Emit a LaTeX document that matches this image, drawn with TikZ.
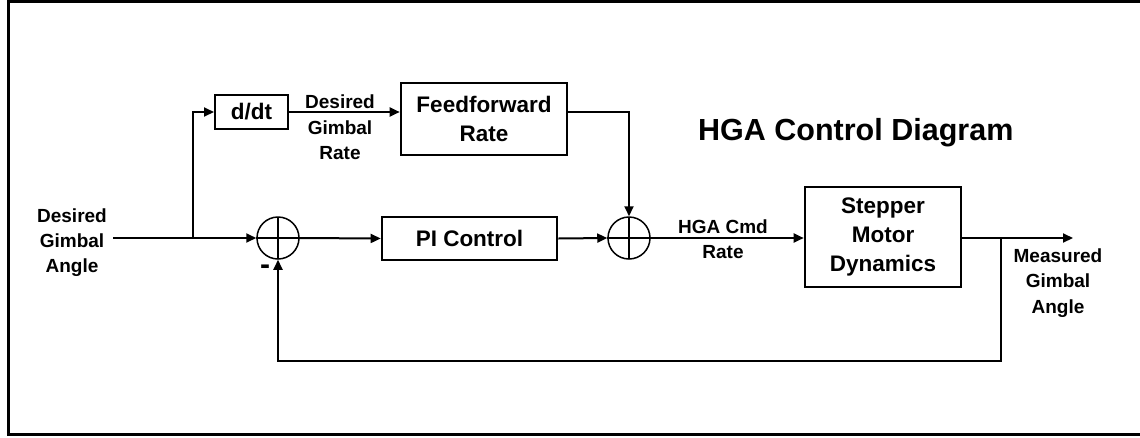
\documentclass[tikz,border=0pt]{standalone}
\usepackage{fontspec}
\setmainfont{Liberation Sans}
\usetikzlibrary{arrows.meta,calc}
\begin{document}
\begin{tikzpicture}[x=1pt,y=-1pt,
  blk/.style={draw,line width=2.6pt,inner sep=0pt,align=center,font=\fontsize{22.5}{29}\selectfont\bfseries},
  lbl/.style={align=center,inner sep=0pt,font=\fontsize{19}{25.3}\selectfont\bfseries},
  sumnode/.style={draw,circle,line width=1.5pt,minimum size=42pt,inner sep=0pt,
    path picture={\draw[line width=1.5pt] (path picture bounding box.north) -- (path picture bounding box.south);}},
  conn/.style={line width=2pt},
  arr/.style={conn,-{Triangle[length=10pt,width=9pt]}}
]
\useasboundingbox (0,0) rectangle (1140,437);
\begin{scope}
\clip (0,0) rectangle (1140,437);
\draw[line width=3pt] (8.5,1.5) rectangle (1160,434.5);
\end{scope}

% blocks
\node[blk,line width=2pt,minimum width=73pt,minimum height=34pt] (dd) at (251.5,112) {d/dt};
\node[blk,minimum width=166pt,minimum height=72pt] (ff) at (484,119) {Feedforward\\Rate};
\node[blk,minimum width=175pt,minimum height=43pt] (pi) at (469.5,238.5) {PI Control};
\node[blk,minimum width=156pt,minimum height=100pt] (sm) at (883,237) {Stepper\\Motor\\Dynamics};
\node[sumnode] (s1) at (278,238) {};
\node[sumnode] (s2) at (629,238) {};

% labels
\node[lbl] (lin) at (72,242.5) {Desired\\Gimbal\\Angle};
\node[lbl] (lrate) at (340,127.5) {Desired\\Gimbal\\Rate};
\node[lbl] (lcmd) at (723,239.5) {HGA Cmd\\Rate};
\node[lbl] (lout) at (1058,283) {Measured\\Gimbal\\Angle};
\node[inner sep=0pt,font=\fontsize{30}{30}\selectfont\bfseries] (minus) at (265,270) {-};
\node[anchor=base west,inner sep=0pt,font=\fontsize{30.5}{36}\selectfont\bfseries] (title) at (698,140) {HGA Control Diagram};

% coordinates
\coordinate (start) at (113,238);
\coordinate (br) at (193,238);
\coordinate (fb) at (1001,238);
\coordinate (out) at (1073,238);
\coordinate (low) at (1001,361);

% connectors
\draw[conn] (start) -- (br);
\draw[arr] (br) -- (s1.west);
\draw[arr] (br) |- (dd.west);
\draw[arr] (dd.east) -- (ff.west |- dd.east);
\draw[arr] (ff.east |- dd.east) -| (s2.north);
\draw[arr] (s1.east) -- (pi.west);
\draw[arr] (pi.east) -- (s2.west);
\draw[conn] (s2.west) -- (s2.east);
\draw[arr] (s2.east) -- (sm.west |- s2.east);
\draw[arr] (sm.east |- fb) -- (out);
\draw[arr] (fb) -- (low) -| (s1.south);
\draw[line width=1.5pt] (s1.west) -- (s1.east);
\end{tikzpicture}
\end{document}
